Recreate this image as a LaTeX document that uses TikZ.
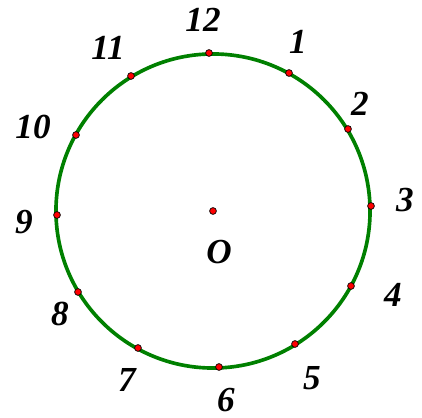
\documentclass[tikz,border=0pt]{standalone}
\usepackage{fontspec}
\setmainfont{Liberation Serif}
\begin{document}
\begin{tikzpicture}[x=0.025cm, y=-0.025cm,
    rim/.style={draw=green!50!black, line width=2.6pt},
    pt/.style={circle, draw=black, fill=red, inner sep=0pt, minimum size=0.17cm, line width=0.5pt},
    num/.style={font=\fontsize{25}{30}\selectfont\bfseries\itshape, inner sep=0pt}
]
    \useasboundingbox (0,0) rectangle (422,418);
    \coordinate (c) at (213,211);
    \draw[rim] (c) circle[radius=3.925cm];
    \node[pt] (O)   at (213,211) {};
    \node[pt] (p12) at (209,53)  {};
    \node[pt] (p1)  at (289,73)  {};
    \node[pt] (p2)  at (348,129) {};
    \node[pt] (p3)  at (371,206) {};
    \node[pt] (p4)  at (351,286) {};
    \node[pt] (p5)  at (295,344) {};
    \node[pt] (p6)  at (219,367) {};
    \node[pt] (p7)  at (138,348) {};
    \node[pt] (p8)  at (78,292)  {};
    \node[pt] (p9)  at (57,215)  {};
    \node[pt] (p10) at (76,135)  {};
    \node[pt] (p11) at (131,76)  {};
    \node[num] (lO)  at (219,252) {O};
    \node[num] (l12) at (203,20)  {12};
    \node[num] (l1)  at (298,42)  {1};
    \node[num] (l2)  at (360,104) {2};
    \node[num] (l3)  at (405,200) {3};
    \node[num] (l4)  at (393,295) {4};
    \node[num] (l5)  at (312,378) {5};
    \node[num] (l6)  at (226,400) {6};
    \node[num] (l7)  at (127,380) {7};
    \node[num] (l8)  at (60,314)  {8};
    \node[num] (l9)  at (24,222)  {9};
    \node[num] (l10) at (33,127)  {10};
    \node[num] (l11) at (108,48)  {11};
\end{tikzpicture}
\end{document}
